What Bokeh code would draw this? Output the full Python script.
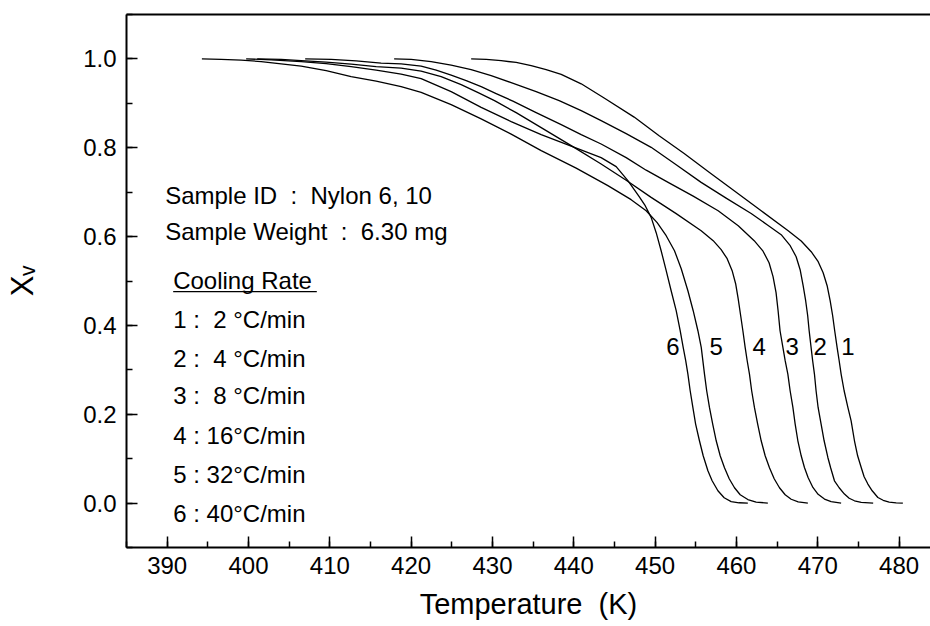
from bokeh.plotting import figure
from bokeh.models import (Label, LinearAxis, SingleIntervalTicker, FixedTicker,
                          NumeralTickFormatter, Range1d)
from bokeh.embed import file_html
from bokeh.resources import INLINE

# ---- data: temperature (K) and X_v ----
T1 = [427.38, 429.23, 431.07, 432.91, 434.76, 436.60, 438.45, 440.91, 443.73, 447.42,
      450.49, 453.57, 456.64, 459.72, 463.04, 466.36, 467.96, 469.19, 470.05, 470.66,
      471.15, 471.52, 471.83, 472.08, 472.38, 472.63, 472.87, 473.24, 473.70, 474.10,
      474.51, 474.90, 475.34, 475.70, 476.16, 476.69, 477.39, 478.04, 478.78, 479.64,
      480.46]
X1 = [1.0, 0.999, 0.996, 0.992, 0.985, 0.976, 0.965, 0.944, 0.912, 0.869,
      0.827, 0.787, 0.745, 0.703, 0.658, 0.613, 0.590, 0.566, 0.5435, 0.5187,
      0.4894, 0.4556, 0.4218, 0.388, 0.350, 0.3205, 0.2905, 0.2529, 0.2153, 0.1853,
      0.1403, 0.1065, 0.0802, 0.0592, 0.0428, 0.0277, 0.0126, 0.0063, 0.0023, 0.0005,
      0.0]

T2 = [417.91, 420.00, 422.46, 424.92, 427.38, 429.84, 432.30, 435.37, 438.20, 440.91,
      443.36, 446.44, 449.51, 452.59, 455.66, 458.73, 461.81, 463.77, 465.50, 466.61,
      467.34, 467.83, 468.20, 468.51, 468.76, 468.94, 469.18, 469.37, 469.59, 469.79,
      470.04, 470.41, 470.78, 471.24, 471.58, 472.05, 472.63, 473.28, 473.86, 474.51,
      475.34, 476.81]
X2 = [1.0, 0.999, 0.994, 0.986, 0.976, 0.9624, 0.9466, 0.9263, 0.906, 0.8835,
      0.861, 0.8317, 0.801, 0.7619, 0.722, 0.6865, 0.652, 0.6268, 0.6043, 0.5795,
      0.5547, 0.5254, 0.4894, 0.4556, 0.4218, 0.388, 0.350, 0.3205, 0.2905, 0.2529,
      0.2153, 0.1779, 0.1403, 0.1027, 0.0795, 0.0502, 0.0345, 0.0203, 0.0108, 0.0052,
      0.0018, 0.0]

T3 = [406.97, 410.17, 413.24, 416.31, 418.77, 421.23, 423.08, 424.92, 426.77, 428.61,
      430.45, 432.51, 435.37, 438.45, 440.91, 443.36, 446.44, 448.90, 451.60, 454.68,
      457.75, 460.22, 462.18, 463.27, 464.01, 464.50, 464.87, 465.12, 465.36, 465.71,
      465.99, 466.32, 466.60, 466.94, 467.22, 467.55, 467.96, 468.36, 468.82, 469.40,
      470.04, 470.82, 471.64, 472.87]
X3 = [1.0, 0.999, 0.9955, 0.9905, 0.989, 0.9838, 0.9748, 0.9635, 0.9511, 0.9376,
      0.9218, 0.905, 0.879, 0.852, 0.8295, 0.8085, 0.7777, 0.7495, 0.7221, 0.691,
      0.6583, 0.6245, 0.5908, 0.5671, 0.5412, 0.5097, 0.4737, 0.4331, 0.388, 0.3504,
      0.3205, 0.2905, 0.2529, 0.2153, 0.1779, 0.1403, 0.1065, 0.0802, 0.057, 0.0352,
      0.0198, 0.009, 0.0034, 0.0]

T4 = [401.07, 404.02, 406.48, 409.55, 412.62, 415.70, 418.77, 421.23, 423.69, 426.15,
      428.24, 430.25, 432.91, 435.99, 439.68, 443.36, 446.44, 449.51, 452.59, 455.66,
      457.14, 458.12, 458.86, 459.47, 459.90, 460.21, 460.52, 460.79, 461.07, 461.32,
      461.60, 461.87, 462.21, 462.61, 463.04, 463.53, 464.06, 464.64, 465.29, 465.99,
      466.73, 467.59, 468.78]
X4 = [1.0, 0.999, 0.996, 0.9928, 0.9883, 0.9827, 0.9793, 0.9725, 0.9602, 0.9421,
      0.9241, 0.9061, 0.879, 0.8453, 0.8047, 0.7635, 0.727, 0.6883, 0.6516, 0.6133,
      0.5908, 0.5705, 0.5502, 0.5232, 0.4939, 0.4601, 0.4218, 0.388, 0.3504, 0.3205,
      0.2905, 0.2529, 0.2153, 0.1779, 0.1403, 0.1065, 0.0795, 0.0547, 0.0345, 0.0187,
      0.0086, 0.0029, 0.0]

T5 = [394.27, 396.64, 399.10, 401.56, 404.02, 406.48, 409.55, 412.62, 415.70, 418.77,
      421.23, 424.92, 428.61, 432.30, 435.99, 440.29, 444.19, 447.05, 448.90, 450.25,
      451.36, 452.38, 453.21, 454.03, 454.68, 455.26, 455.67, 456.07, 456.34, 456.68,
      457.08, 457.51, 458.00, 458.53, 459.11, 459.76, 460.46, 461.40, 462.42, 463.86]
X5 = [1.0, 0.999, 0.9973, 0.994, 0.989, 0.9838, 0.9736, 0.9602, 0.95, 0.9376,
      0.9248, 0.8971, 0.8649, 0.8306, 0.7935, 0.7541, 0.7146, 0.6831, 0.6583, 0.6313,
      0.602, 0.5682, 0.5277, 0.4781, 0.4331, 0.388, 0.3504, 0.2905, 0.2529, 0.2153,
      0.1779, 0.1403, 0.1065, 0.0795, 0.0547, 0.0345, 0.0187, 0.0079, 0.0023, 0.0]

T6 = [399.71, 402.79, 406.48, 409.55, 412.62, 415.70, 418.77, 421.23, 424.92, 428.61,
      432.30, 435.99, 439.68, 443.36, 445.21, 446.65, 448.04, 448.78, 449.51, 450.13,
      450.74, 451.36, 451.97, 452.59, 453.08, 453.45, 453.76, 454.03, 454.31, 454.64,
      454.98, 455.45, 455.91, 456.49, 457.01, 457.72, 458.49, 459.35, 460.33, 461.40]
X6 = [1.0, 0.998, 0.994, 0.9894, 0.9827, 0.9748, 0.9658, 0.9556, 0.9263, 0.891,
      0.8588, 0.8295, 0.8036, 0.7777, 0.7574, 0.7259, 0.6899, 0.6696, 0.6432, 0.6088,
      0.5682, 0.5232, 0.4781, 0.4331, 0.388, 0.3504, 0.3205, 0.2905, 0.2529, 0.2153,
      0.1779, 0.1403, 0.1065, 0.0728, 0.0502, 0.0277, 0.0119, 0.0034, 0.0007, 0.0]

curve_ids = ["1", "2", "3", "4", "5", "6"]
NB = "\u00a0"
rate_lines = ["1 :" + NB * 2 + "2 °C/min", "2 :" + NB * 2 + "4 °C/min",
              "3 :" + NB * 2 + "8 °C/min", "4 : 16°C/min", "5 : 32°C/min",
              "6 : 40°C/min"]

FONT = "Liberation Sans"

p = figure(width=930, height=626,
           x_range=Range1d(385, 483.86), y_range=Range1d(-0.1, 1.1),
           output_backend="svg", toolbar_location=None,
           min_border_left=126, min_border_right=0,
           min_border_top=14, min_border_bottom=79)
p.outline_line_color = None
p.grid.visible = False
p.background_fill_color = "white"
p.border_fill_color = "white"

for ax in (p.xaxis[0], p.yaxis[0]):
    ax.axis_line_width = 2
    ax.axis_line_color = "black"
    ax.major_tick_in = 11
    ax.major_tick_out = 0
    ax.minor_tick_in = 6
    ax.minor_tick_out = 0
    ax.major_tick_line_width = 1.5
    ax.minor_tick_line_width = 1.5
    ax.major_tick_line_color = "black"
    ax.minor_tick_line_color = "black"
    ax.major_label_text_font = FONT
    ax.major_label_text_font_size = "24px"
    ax.major_label_text_color = "black"
    ax.axis_label_text_font = FONT
    ax.axis_label_text_font_style = "normal"
    ax.axis_label_text_color = "black"

p.xaxis[0].ticker = SingleIntervalTicker(interval=10, num_minor_ticks=2)
p.yaxis[0].ticker = SingleIntervalTicker(interval=0.2, num_minor_ticks=2)
p.yaxis[0].formatter = NumeralTickFormatter(format="0.0")
p.xaxis[0].major_label_standoff = 9
p.yaxis[0].major_label_standoff = 10
p.xaxis[0].axis_label = "Temperature" + NB * 2 + "(K)"
p.xaxis[0].axis_label_text_font_size = "29px"
p.xaxis[0].axis_label_standoff = 11
p.yaxis[0].axis_label = "Xᵥ"
p.yaxis[0].axis_label_text_font_size = "31px"
p.yaxis[0].axis_label_standoff = 40

top = LinearAxis(ticker=FixedTicker(ticks=[]), axis_line_width=2,
                 axis_line_color="black", major_label_text_font_size="0px",
                 major_tick_line_color=None, minor_tick_line_color=None)
p.add_layout(top, "above")

for T, X in ((T1, X1), (T2, X2), (T3, X3), (T4, X4), (T5, X5), (T6, X6)):
    p.line(T, X, line_color="black", line_width=1.3, line_join="round")

def lab(text, x, y, size="24px", align="left"):
    p.add_layout(Label(x=x, y=y, text=text, text_font=FONT, text_font_size=size,
                       text_color="black", text_align=align,
                       text_baseline="alphabetic"))

lab("Sample ID" + NB * 2 + ":" + NB * 2 + "Nylon 6, 10", 389.75, 0.693)
lab("Sample Weight" + NB * 2 + ":" + NB * 2 + "6.30 mg", 389.75, 0.611)
lab("Cooling Rate", 390.74, 0.502)
p.segment(x0=[390.74], y0=[0.476], x1=[408.4], y1=[0.476], line_color="black", line_width=1.3)

rate_y = [0.4135, 0.3257, 0.2416, 0.1516, 0.0644, -0.0234]
for txt, yy in zip(rate_lines, rate_y):
    lab(txt, 390.74, yy)

label_T = [473.7, 470.29, 466.85, 462.79, 457.5, 452.18]
for cid, tx in zip(curve_ids, label_T):
    lab(cid, tx, 0.352, align="center")

open("out.html", "w").write(file_html(p, INLINE))
